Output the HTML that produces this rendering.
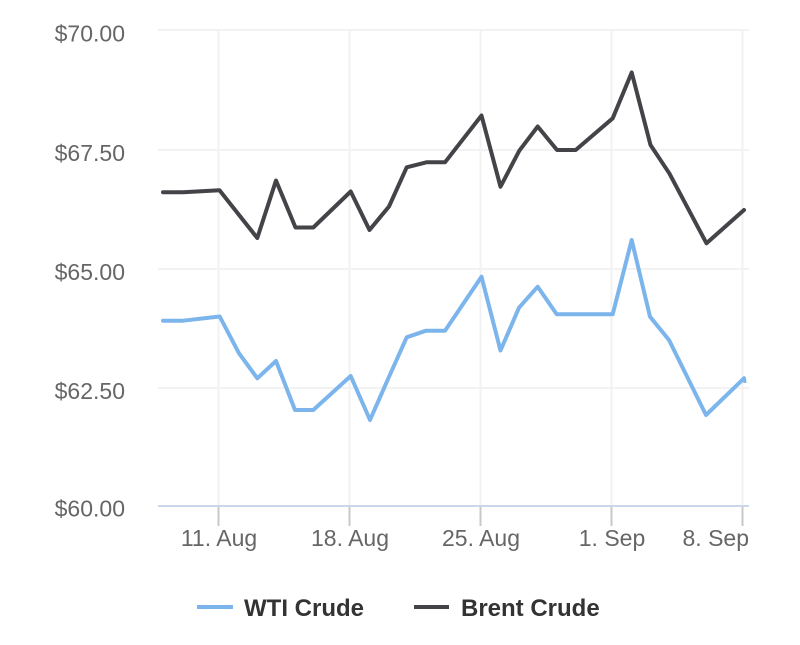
<!DOCTYPE html>
<html>
<head>
<meta charset="utf-8">
<style>
  html,body{margin:0;padding:0;background:#fff;}
  svg{display:block;}
  text{font-family:"Liberation Sans",Arial,sans-serif;}
</style>
</head>
<body>
<svg width="800" height="645" viewBox="0 0 800 645" xmlns="http://www.w3.org/2000/svg">
  <rect width="800" height="645" fill="#ffffff"/>
  <!-- horizontal gridlines -->
  <g stroke="#f2f2f2" stroke-width="2" fill="none">
    <line x1="158" y1="30" x2="749" y2="30"/>
    <line x1="158" y1="150" x2="749" y2="150"/>
    <line x1="158" y1="269" x2="749" y2="269"/>
    <line x1="158" y1="388" x2="749" y2="388"/>
    <!-- vertical gridlines -->
    <line x1="218.5" y1="30" x2="218.5" y2="506"/>
    <line x1="349.5" y1="30" x2="349.5" y2="506"/>
    <line x1="480.5" y1="30" x2="480.5" y2="506"/>
    <line x1="611.5" y1="30" x2="611.5" y2="506"/>
    <line x1="742.5" y1="30" x2="742.5" y2="506"/>
  </g>
  <!-- x axis line -->
  <line x1="158" y1="506" x2="749" y2="506" stroke="#ccd6eb" stroke-width="2"/>
  <!-- ticks -->
  <g stroke="#c8c8c8" stroke-width="2">
    <line x1="218.5" y1="507" x2="218.5" y2="526"/>
    <line x1="349.5" y1="507" x2="349.5" y2="526"/>
    <line x1="480.5" y1="507" x2="480.5" y2="526"/>
    <line x1="611.5" y1="507" x2="611.5" y2="526"/>
    <line x1="742.5" y1="507" x2="742.5" y2="526"/>
  </g>
  <!-- y labels -->
  <g fill="#666666" font-size="23" text-anchor="end">
    <text x="125" y="41.5">$70.00</text>
    <text x="125" y="161">$67.50</text>
    <text x="125" y="280">$65.00</text>
    <text x="125" y="399">$62.50</text>
    <text x="125" y="516.5">$60.00</text>
  </g>
  <!-- x labels -->
  <g fill="#666666" font-size="23" text-anchor="middle">
    <text x="219" y="546">11. Aug</text>
    <text x="350" y="546">18. Aug</text>
    <text x="481" y="546">25. Aug</text>
    <text x="612" y="546">1. Sep</text>
    <text x="749" y="546" text-anchor="end">8. Sep</text>
  </g>
  <!-- series -->
  <polyline fill="none" stroke="#7cb5ec" stroke-width="4" stroke-linejoin="round" stroke-linecap="round"
    points="163,320.7 183,320.7 219.7,316.5 239,353.3 257.3,378.3 276,361 295,410 313.3,410 350.7,376 370,420 388.7,377.5 406.7,337.3 426,330.7 445,330.7 481.5,276.7 500.5,350.5 519,307.7 537.7,286.7 556.7,314.3 575.7,314.3 612.7,314.3 631.7,240 650,316.7 669,340 706,415 744,378.3"/>
  <line x1="744.5" y1="378" x2="745" y2="383" stroke="#7cb5ec" stroke-width="3"/>
  <polyline fill="none" stroke="#434348" stroke-width="4" stroke-linejoin="round" stroke-linecap="round"
    points="163,192.3 183,192.3 219.5,190.3 257.3,238 276,180.5 295.5,227.5 313.3,227.5 350.7,191.5 369.5,230 389,206.5 406.7,167.3 426.5,162.3 445,162.3 481.5,115.5 500.5,186.7 519.3,150.7 537.7,126.5 557,150 575.7,150 612.7,118.3 631.7,72.5 650.5,145 669.3,173.3 706.5,243.3 744,210"/>
  <!-- legend -->
  <line x1="197" y1="607" x2="233" y2="607" stroke="#7cb5ec" stroke-width="4"/>
  <text x="244" y="616" font-size="24" font-weight="bold" fill="#333333">WTI Crude</text>
  <line x1="414" y1="607" x2="449" y2="607" stroke="#434348" stroke-width="4"/>
  <text x="461" y="616" font-size="24" font-weight="bold" fill="#333333">Brent Crude</text>
</svg>
</body>
</html>
